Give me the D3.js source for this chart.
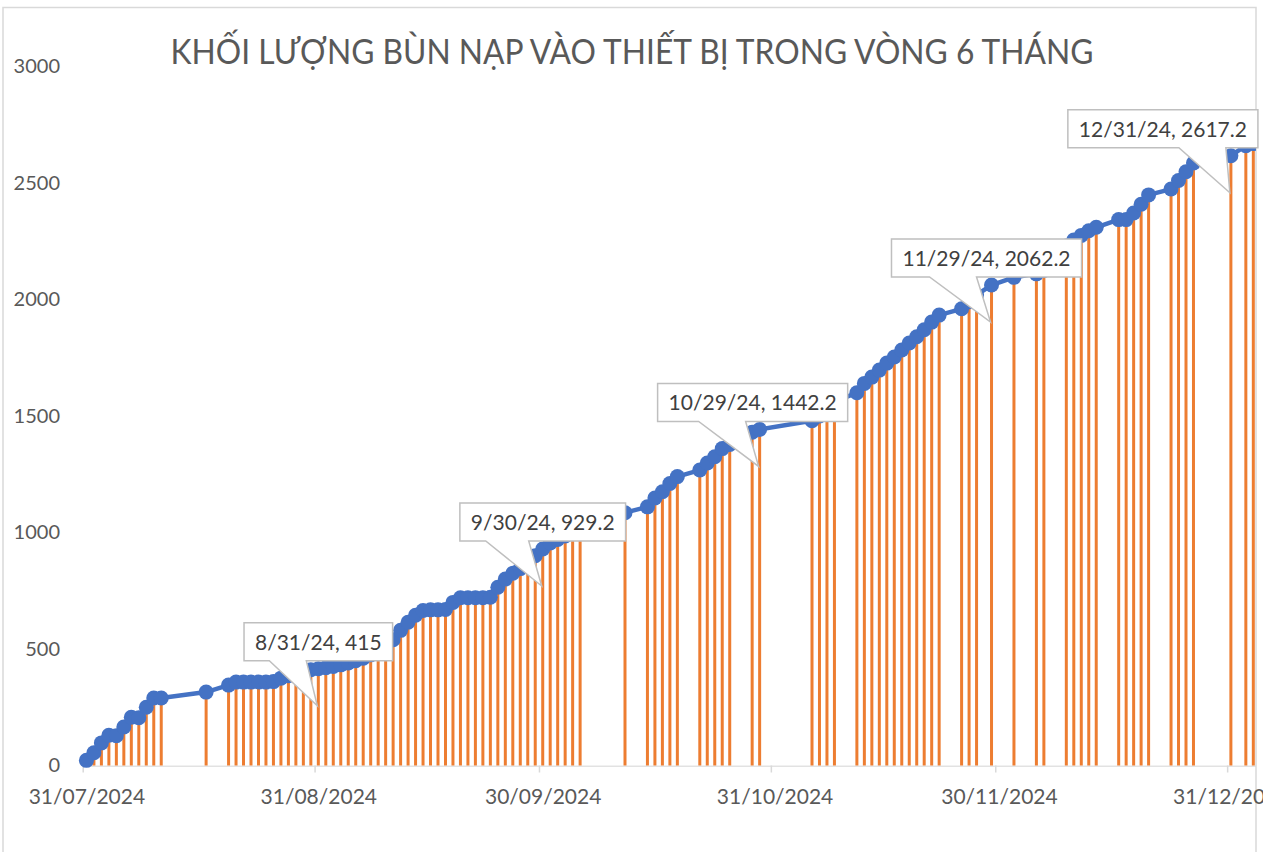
<!DOCTYPE html>
<html>
<head>
<meta charset="utf-8">
<script src="https://cdn.jsdelivr.net/npm/d3@7.9.0/dist/d3.min.js"></script>
<style>
  body { margin: 0; background: #fff; overflow: hidden; }
  svg { display: block; font-family: Lato, 'Open Sans', sans-serif; }
</style>
</head>
<body>
<svg id="chart" width="1263" height="852"></svg>
<script>
// data
const dates = [
  '2024-07-31', '2024-08-01', '2024-08-02', '2024-08-03', '2024-08-04', '2024-08-05',
  '2024-08-06', '2024-08-07', '2024-08-08', '2024-08-09', '2024-08-10', '2024-08-16',
  '2024-08-19', '2024-08-20', '2024-08-21', '2024-08-22', '2024-08-23', '2024-08-24',
  '2024-08-25', '2024-08-26', '2024-08-27', '2024-08-28', '2024-08-29', '2024-08-30',
  '2024-08-31', '2024-09-01', '2024-09-02', '2024-09-03', '2024-09-04', '2024-09-05',
  '2024-09-06', '2024-09-07', '2024-09-08', '2024-09-09', '2024-09-10', '2024-09-11',
  '2024-09-12', '2024-09-13', '2024-09-14', '2024-09-15', '2024-09-16', '2024-09-17',
  '2024-09-18', '2024-09-19', '2024-09-20', '2024-09-21', '2024-09-22', '2024-09-23',
  '2024-09-24', '2024-09-25', '2024-09-26', '2024-09-27', '2024-09-28', '2024-09-29',
  '2024-09-30', '2024-10-01', '2024-10-02', '2024-10-03', '2024-10-04', '2024-10-05',
  '2024-10-11', '2024-10-14', '2024-10-15', '2024-10-16', '2024-10-17', '2024-10-18',
  '2024-10-21', '2024-10-22', '2024-10-23', '2024-10-24', '2024-10-25', '2024-10-28',
  '2024-10-29', '2024-11-05', '2024-11-06', '2024-11-07', '2024-11-08', '2024-11-11',
  '2024-11-12', '2024-11-13', '2024-11-14', '2024-11-15', '2024-11-16', '2024-11-17',
  '2024-11-18', '2024-11-19', '2024-11-20', '2024-11-21', '2024-11-22', '2024-11-25',
  '2024-11-26', '2024-11-27', '2024-11-29', '2024-12-02', '2024-12-05', '2024-12-06',
  '2024-12-09', '2024-12-10', '2024-12-11', '2024-12-12', '2024-12-13', '2024-12-16',
  '2024-12-17', '2024-12-18', '2024-12-19', '2024-12-20', '2024-12-23', '2024-12-24',
  '2024-12-25', '2024-12-26', '2024-12-31', '2025-01-02', '2025-01-03'
];

const values = [
  22, 55, 97, 130, 128, 165,
  207, 205, 250, 290, 290, 315,
  345, 358, 358, 358, 358, 358,
  360, 375, 385, 395, 403, 411,
  415, 420, 425, 432, 440, 450,
  460, 475, 490, 510, 540, 580,
  615, 645, 665, 668, 668, 670,
  700, 720, 720, 720, 720, 722,
  765, 800, 825, 845, 870, 900,
  929.2, 955, 970, 985, 1000, 1015,
  1085, 1110, 1148, 1175, 1210, 1240,
  1268, 1298, 1325, 1360, 1378, 1430,
  1442.2, 1480, 1500, 1525, 1560, 1600,
  1640, 1667, 1697, 1727, 1753, 1783,
  1813, 1840, 1870, 1903, 1933, 1960,
  1990, 2020, 2062.2, 2095, 2110, 2125,
  2230, 2255, 2275, 2295, 2310, 2343,
  2343, 2371, 2409, 2449, 2474, 2511,
  2548, 2586, 2617.2, 2660, 2669
];

const yTicks = [0, 500, 1000, 1500, 2000, 2500, 3000];
const xTickDates = ['2024-07-31', '2024-08-31', '2024-09-30', '2024-10-31', '2024-11-30', '2024-12-31'];
const calloutDates = ['2024-08-31', '2024-09-30', '2024-10-29', '2024-11-29', '2024-12-31'];
const titleText = 'KHỐI LƯỢNG BÙN NẠP VÀO THIẾT BỊ TRONG VÒNG 6 THÁNG';

// layout
const boxShift = [0, 0, -7, -5, -68];
const wedgeBase = [[-48, -11], [-56, -13], [-60, -13], [-61, -14], [-51, -4]];
const plotRight = 1256;

const parse = d3.utcParse('%Y-%m-%d');
const data = dates.map((d, i) => ({ date: parse(d), value: values[i] }));

const svg = d3.select('#chart');

const x = d3.scaleUtc()
  .domain([parse('2024-07-31'), parse('2025-01-06')])
  .range([82.7, 82.7 + 159 * 7.48]);

const y = d3.scaleLinear()
  .domain([0, 3000])
  .range([765.5, 66.5]);

// centre of the day slot
const xc = d => x(d3.utcHour.offset(d, 12));

// chart border
svg.append('path')
  .attr('d', `M3,900 V7.5 H${plotRight} V900`)
  .attr('fill', 'none')
  .attr('stroke', '#d9d9d9')
  .attr('stroke-width', 1.5);

// title
svg.append('text')
  .attr('x', 632)
  .attr('y', 64)
  .attr('text-anchor', 'middle')
  .attr('font-size', 34)
  .attr('fill', '#595959')
  .attr('textLength', 923)
  .attr('lengthAdjust', 'spacingAndGlyphs')
  .text(titleText);

// y axis labels only
const yAxis = svg.append('g')
  .attr('transform', 'translate(60,0)')
  .call(d3.axisLeft(y).tickValues(yTicks).tickSize(0).tickPadding(0).tickFormat(d3.format('d')));
yAxis.select('.domain').remove();
yAxis.selectAll('text')
  .attr('font-size', 20)
  .attr('font-family', 'Lato, sans-serif')
  .attr('fill', '#595959');

// clip for plot area
svg.append('clipPath').attr('id', 'plotclip')
  .append('rect').attr('x', 0).attr('y', 0).attr('width', plotRight).attr('height', 852);

// x axis
const xAxis = svg.append('g')
  .attr('transform', `translate(0,${y(0)})`)
  .call(d3.axisBottom(x)
    .tickValues(xTickDates.map(parse))
    .tickSize(7)
    .tickSizeOuter(0)
    .tickFormat(d3.utcFormat('%d/%m/%Y')));
xAxis.select('.domain')
  .attr('stroke', '#d9d9d9')
  .attr('stroke-width', 1.5)
  .attr('clip-path', 'url(#plotclip)');
xAxis.selectAll('.tick line')
  .attr('stroke', '#d9d9d9')
  .attr('stroke-width', 1.5);
xAxis.selectAll('.tick text')
  .attr('x', 3.7)
  .attr('dy', 0)
  .attr('y', 38)
  .attr('font-size', 21)
  .attr('font-family', 'Lato, sans-serif')
  .attr('fill', '#595959');

const plot = svg.append('g').attr('clip-path', 'url(#plotclip)');

// orange drop bars
plot.selectAll('line.bar')
  .data(data)
  .join('line')
  .attr('class', 'bar')
  .attr('x1', d => xc(d.date))
  .attr('x2', d => xc(d.date))
  .attr('y1', y(0))
  .attr('y2', d => y(d.value))
  .attr('stroke', '#ED7D31')
  .attr('stroke-width', 3);

// blue cumulative line
const line = d3.line()
  .x(d => xc(d.date))
  .y(d => y(d.value));

plot.append('path')
  .datum(data)
  .attr('d', line)
  .attr('fill', 'none')
  .attr('stroke', '#4472C4')
  .attr('stroke-width', 4.5)
  .attr('stroke-linejoin', 'round');

plot.selectAll('circle')
  .data(data)
  .join('circle')
  .attr('cx', d => xc(d.date))
  .attr('cy', d => y(d.value))
  .attr('r', 7.5)
  .attr('fill', '#4472C4');

// callouts
const labelFmt = d3.utcFormat('%-m/%-d/%y');
calloutDates.forEach((ds, i) => {
  const d = data.find(p => +p.date === +parse(ds));
  const px = xc(d.date), py = y(d.value);
  const g = svg.append('g');
  const box = g.append('path');
  const t = g.append('text')
    .attr('text-anchor', 'middle')
    .attr('font-size', 21)
    .attr('fill', '#404040')
    .text(`${labelFmt(d.date)}, ${d.value}`);
  const w = t.node().getComputedTextLength() + 22;
  const cx = px + boxShift[i];
  const L = cx - w / 2, R = cx + w / 2, T = py - 46, B = py - 8;
  const tx = px - 1, ty = py + 37;
  t.attr('x', cx).attr('y', T + 27);
  box.attr('d', `M${L},${T} H${R} V${B} H${tx + wedgeBase[i][1]} L${tx},${ty} L${tx + wedgeBase[i][0]},${B} H${L} Z`)
    .attr('fill', '#fff')
    .attr('stroke', '#bfbfbf')
    .attr('stroke-width', 1.5);
});
</script>
</body>
</html>
